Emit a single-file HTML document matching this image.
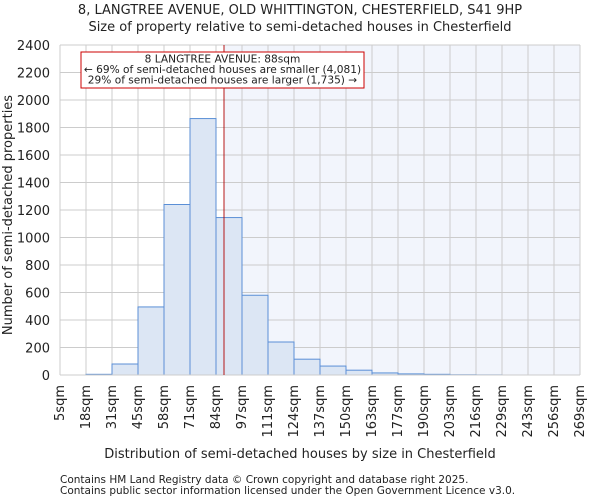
<!DOCTYPE html>
<html><head><meta charset="utf-8"><style>
body{margin:0;background:#fff;font-family:"DejaVu Sans","Liberation Sans",sans-serif;}
svg text{font-family:"DejaVu Sans","Liberation Sans",sans-serif;fill:#222;}
</style></head><body>
<svg id="chart" width="600" height="500">
<text x="300" y="14" text-anchor="middle" font-size="13">8, LANGTREE AVENUE, OLD WHITTINGTON, CHESTERFIELD, S41 9HP</text>
<text x="300" y="31" text-anchor="middle" font-size="13">Size of property relative to semi-detached houses in Chesterfield</text>
<g id="plot"></g>
<text x="300" y="458" text-anchor="middle" font-size="13">Distribution of semi-detached houses by size in Chesterfield</text>
<text x="12" y="215" text-anchor="middle" font-size="13" transform="rotate(-90 12 215)">Number of semi-detached properties</text>
<text x="60" y="483" font-size="10.5">Contains HM Land Registry data © Crown copyright and database right 2025.</text>
<text x="60" y="494" font-size="10.5">Contains public sector information licensed under the Open Government Licence v3.0.</text>
</svg>
<script>
const edges=[5,18,31,45,58,71,84,97,111,124,137,150,163,177,190,203,216,229,243,256,269];
const tickLabels=["5sqm","18sqm","31sqm","45sqm","58sqm","71sqm","84sqm","97sqm","111sqm","124sqm","137sqm","150sqm","163sqm","177sqm","190sqm","203sqm","216sqm","229sqm","243sqm","256sqm","269sqm"];
const counts=[0,5,80,495,1240,1865,1145,580,240,115,65,35,15,8,5,2,1,0,0,0];
const yTicks=[0,200,400,600,800,1000,1200,1400,1600,1800,2000,2200,2400];
const propertySize=88;
const L=60,R=580,T=45,B=375,yMax=2400;
const NS="http://www.w3.org/2000/svg";
const g=document.getElementById('plot');
function xi(i){return L+i*(R-L)/(edges.length-1);}
function xv(v){for(let i=0;i<edges.length-1;i++){if(v<=edges[i+1])return xi(i)+(v-edges[i])/(edges[i+1]-edges[i])*(xi(i+1)-xi(i));}return R;}
function y(v){return B-v/yMax*(B-T);}
function mk(t,a){const e=document.createElementNS(NS,t);for(const k in a)e.setAttribute(k,a[k]);g.appendChild(e);return e;}
const px=xv(propertySize);
let e=mk('rect',{x:px,y:T,width:R-px,height:B-T,fill:'#f2f5fc'});


yTicks.forEach(t=>{let l=mk('line',{x1:L,x2:R,y1:y(t),y2:y(t),stroke:'#cccccc','stroke-width':1});


let tx=mk('text',{x:L-10,y:y(t)+5,'text-anchor':'end','font-size':13});tx.textContent=t;

});
edges.forEach((v,i)=>{let l=mk('line',{x1:xi(i),x2:xi(i),y1:T,y2:B,stroke:'#cccccc','stroke-width':1});


let xx=xi(i)+4;let tx=mk('text',{x:xx,y:385,'text-anchor':'end','font-size':13,transform:`rotate(-90 ${xx} 385)`});tx.textContent=tickLabels[i];

});
counts.forEach((c,i)=>{if(c<=0)return;const x0=xi(i),x1=xi(i+1);
let r=mk('rect',{x:x0,y:y(c),width:x1-x0,height:B-y(c),fill:'#dce6f4',stroke:'#5b8fd6','stroke-width':1});

});
let ax=mk('line',{x1:L,x2:R,y1:B,y2:B,stroke:'#cccccc'});


let pl=mk('line',{x1:px,x2:px,y1:T,y2:B,stroke:'#b00000','stroke-width':0.9});


let box=mk('rect',{x:81,y:52,width:283,height:36,fill:'#fff',stroke:'#cc0000','stroke-width':1});


["8 LANGTREE AVENUE: 88sqm","← 69% of semi-detached houses are smaller (4,081)","29% of semi-detached houses are larger (1,735) →"].forEach((s,i)=>{
let t=mk('text',{x:222.5,y:62.5+i*10.5,'text-anchor':'middle','font-size':10.6});t.textContent=s;

});
</script>
</body></html>
